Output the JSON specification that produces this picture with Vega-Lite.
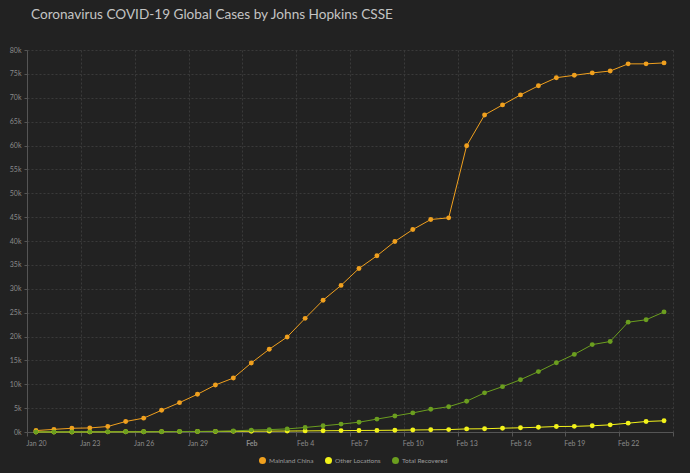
{
  "$schema": "https://vega.github.io/schema/vega-lite/v6.json",
  "width": 646,
  "height": 382,
  "autosize": {"type": "none"},
  "padding": {"left": 27, "top": 50, "right": 17, "bottom": 41},
  "background": "#222222",
  "title": {
    "text": "Coronavirus COVID-19 Global Cases by Johns Hopkins CSSE",
    "anchor": "start",
    "frame": "group",
    "dx": 4,
    "offset": 24,
    "font": "Lato",
    "fontSize": 13.6,
    "fontWeight": "normal",
    "color": "#c4c4c4"
  },
  "config": {
    "view": {"stroke": null},
    "axis": {
      "domainColor": "#555555",
      "tickColor": "#555555",
      "gridColor": "#3a3a3a",
      "gridDash": [2, 2],
      "gridWidth": 1,
      "labelColor": "#8a8a8a",
      "labelFont": "Lato",
      "labelFontSize": 7,
      "title": null
    }
  },
  "data": {
    "values": [
      {"date": "2020-01-20", "series": "Mainland China", "value": 300},
      {"date": "2020-01-21", "series": "Mainland China", "value": 550},
      {"date": "2020-01-22", "series": "Mainland China", "value": 780},
      {"date": "2020-01-23", "series": "Mainland China", "value": 850},
      {"date": "2020-01-24", "series": "Mainland China", "value": 1150},
      {"date": "2020-01-25", "series": "Mainland China", "value": 2200},
      {"date": "2020-01-26", "series": "Mainland China", "value": 2900},
      {"date": "2020-01-27", "series": "Mainland China", "value": 4550},
      {"date": "2020-01-28", "series": "Mainland China", "value": 6150},
      {"date": "2020-01-29", "series": "Mainland China", "value": 7900},
      {"date": "2020-01-30", "series": "Mainland China", "value": 9850},
      {"date": "2020-01-31", "series": "Mainland China", "value": 11300},
      {"date": "2020-02-01", "series": "Mainland China", "value": 14460},
      {"date": "2020-02-02", "series": "Mainland China", "value": 17330},
      {"date": "2020-02-03", "series": "Mainland China", "value": 19900},
      {"date": "2020-02-04", "series": "Mainland China", "value": 23800},
      {"date": "2020-02-05", "series": "Mainland China", "value": 27600},
      {"date": "2020-02-06", "series": "Mainland China", "value": 30700},
      {"date": "2020-02-07", "series": "Mainland China", "value": 34250},
      {"date": "2020-02-08", "series": "Mainland China", "value": 36900},
      {"date": "2020-02-09", "series": "Mainland China", "value": 39900},
      {"date": "2020-02-10", "series": "Mainland China", "value": 42400},
      {"date": "2020-02-11", "series": "Mainland China", "value": 44500},
      {"date": "2020-02-12", "series": "Mainland China", "value": 44850},
      {"date": "2020-02-13", "series": "Mainland China", "value": 59950},
      {"date": "2020-02-14", "series": "Mainland China", "value": 66400},
      {"date": "2020-02-15", "series": "Mainland China", "value": 68500},
      {"date": "2020-02-16", "series": "Mainland China", "value": 70600},
      {"date": "2020-02-17", "series": "Mainland China", "value": 72500},
      {"date": "2020-02-18", "series": "Mainland China", "value": 74200},
      {"date": "2020-02-19", "series": "Mainland China", "value": 74700},
      {"date": "2020-02-20", "series": "Mainland China", "value": 75200},
      {"date": "2020-02-21", "series": "Mainland China", "value": 75600},
      {"date": "2020-02-22", "series": "Mainland China", "value": 77100},
      {"date": "2020-02-23", "series": "Mainland China", "value": 77100},
      {"date": "2020-02-24", "series": "Mainland China", "value": 77300},
      {"date": "2020-01-20", "series": "Other Locations", "value": 5},
      {"date": "2020-01-21", "series": "Other Locations", "value": 8},
      {"date": "2020-01-22", "series": "Other Locations", "value": 12},
      {"date": "2020-01-23", "series": "Other Locations", "value": 20},
      {"date": "2020-01-24", "series": "Other Locations", "value": 30},
      {"date": "2020-01-25", "series": "Other Locations", "value": 40},
      {"date": "2020-01-26", "series": "Other Locations", "value": 55},
      {"date": "2020-01-27", "series": "Other Locations", "value": 70},
      {"date": "2020-01-28", "series": "Other Locations", "value": 85},
      {"date": "2020-01-29", "series": "Other Locations", "value": 100},
      {"date": "2020-01-30", "series": "Other Locations", "value": 120},
      {"date": "2020-01-31", "series": "Other Locations", "value": 140},
      {"date": "2020-02-01", "series": "Other Locations", "value": 160},
      {"date": "2020-02-02", "series": "Other Locations", "value": 180},
      {"date": "2020-02-03", "series": "Other Locations", "value": 200},
      {"date": "2020-02-04", "series": "Other Locations", "value": 230},
      {"date": "2020-02-05", "series": "Other Locations", "value": 260},
      {"date": "2020-02-06", "series": "Other Locations", "value": 290},
      {"date": "2020-02-07", "series": "Other Locations", "value": 320},
      {"date": "2020-02-08", "series": "Other Locations", "value": 340},
      {"date": "2020-02-09", "series": "Other Locations", "value": 370},
      {"date": "2020-02-10", "series": "Other Locations", "value": 420},
      {"date": "2020-02-11", "series": "Other Locations", "value": 460},
      {"date": "2020-02-12", "series": "Other Locations", "value": 500},
      {"date": "2020-02-13", "series": "Other Locations", "value": 650},
      {"date": "2020-02-14", "series": "Other Locations", "value": 680},
      {"date": "2020-02-15", "series": "Other Locations", "value": 800},
      {"date": "2020-02-16", "series": "Other Locations", "value": 880},
      {"date": "2020-02-17", "series": "Other Locations", "value": 1000},
      {"date": "2020-02-18", "series": "Other Locations", "value": 1150},
      {"date": "2020-02-19", "series": "Other Locations", "value": 1180},
      {"date": "2020-02-20", "series": "Other Locations", "value": 1300},
      {"date": "2020-02-21", "series": "Other Locations", "value": 1500},
      {"date": "2020-02-22", "series": "Other Locations", "value": 1850},
      {"date": "2020-02-23", "series": "Other Locations", "value": 2200},
      {"date": "2020-02-24", "series": "Other Locations", "value": 2350},
      {"date": "2020-01-20", "series": "Total Recovered", "value": 20},
      {"date": "2020-01-21", "series": "Total Recovered", "value": 25},
      {"date": "2020-01-22", "series": "Total Recovered", "value": 28},
      {"date": "2020-01-23", "series": "Total Recovered", "value": 30},
      {"date": "2020-01-24", "series": "Total Recovered", "value": 36},
      {"date": "2020-01-25", "series": "Total Recovered", "value": 39},
      {"date": "2020-01-26", "series": "Total Recovered", "value": 49},
      {"date": "2020-01-27", "series": "Total Recovered", "value": 58},
      {"date": "2020-01-28", "series": "Total Recovered", "value": 101},
      {"date": "2020-01-29", "series": "Total Recovered", "value": 120},
      {"date": "2020-01-30", "series": "Total Recovered", "value": 135},
      {"date": "2020-01-31", "series": "Total Recovered", "value": 214},
      {"date": "2020-02-01", "series": "Total Recovered", "value": 400},
      {"date": "2020-02-02", "series": "Total Recovered", "value": 500},
      {"date": "2020-02-03", "series": "Total Recovered", "value": 650},
      {"date": "2020-02-04", "series": "Total Recovered", "value": 950},
      {"date": "2020-02-05", "series": "Total Recovered", "value": 1300},
      {"date": "2020-02-06", "series": "Total Recovered", "value": 1650},
      {"date": "2020-02-07", "series": "Total Recovered", "value": 2050},
      {"date": "2020-02-08", "series": "Total Recovered", "value": 2700},
      {"date": "2020-02-09", "series": "Total Recovered", "value": 3350},
      {"date": "2020-02-10", "series": "Total Recovered", "value": 4000},
      {"date": "2020-02-11", "series": "Total Recovered", "value": 4750},
      {"date": "2020-02-12", "series": "Total Recovered", "value": 5300},
      {"date": "2020-02-13", "series": "Total Recovered", "value": 6450},
      {"date": "2020-02-14", "series": "Total Recovered", "value": 8200},
      {"date": "2020-02-15", "series": "Total Recovered", "value": 9500},
      {"date": "2020-02-16", "series": "Total Recovered", "value": 10950},
      {"date": "2020-02-17", "series": "Total Recovered", "value": 12650},
      {"date": "2020-02-18", "series": "Total Recovered", "value": 14500},
      {"date": "2020-02-19", "series": "Total Recovered", "value": 16250},
      {"date": "2020-02-20", "series": "Total Recovered", "value": 18300},
      {"date": "2020-02-21", "series": "Total Recovered", "value": 18950},
      {"date": "2020-02-22", "series": "Total Recovered", "value": 23000},
      {"date": "2020-02-23", "series": "Total Recovered", "value": 23500},
      {"date": "2020-02-24", "series": "Total Recovered", "value": 25150}
    ]
  },
  "encoding": {
    "x": {
      "field": "date",
      "type": "temporal",
      "timeUnit": "utcyearmonthdate",
      "bandPosition": 0.5,
      "scale": {
        "domain": [
          {"year": 2020, "month": 1, "date": 20, "utc": true},
          {"year": 2020, "month": 2, "date": 25, "utc": true}
        ],
        "nice": false
      },
      "axis": {
        "values": [
          {"year": 2020, "month": 1, "date": 20, "utc": true},
          {"year": 2020, "month": 1, "date": 23, "utc": true},
          {"year": 2020, "month": 1, "date": 26, "utc": true},
          {"year": 2020, "month": 1, "date": 29, "utc": true},
          {"year": 2020, "month": 2, "date": 1, "utc": true},
          {"year": 2020, "month": 2, "date": 4, "utc": true},
          {"year": 2020, "month": 2, "date": 7, "utc": true},
          {"year": 2020, "month": 2, "date": 10, "utc": true},
          {"year": 2020, "month": 2, "date": 13, "utc": true},
          {"year": 2020, "month": 2, "date": 16, "utc": true},
          {"year": 2020, "month": 2, "date": 19, "utc": true},
          {"year": 2020, "month": 2, "date": 22, "utc": true},
          {"year": 2020, "month": 2, "date": 25, "utc": true}
        ],
        "labelExpr": "utcdate(datum.value) == 1 ? utcFormat(datum.value, '%b') : (utcdate(datum.value) == 25 && utcmonth(datum.value) == 1 ? '' : utcFormat(datum.value, '%b %-d'))",
        "labelFontWeight": {"condition": {"test": "utcdate(datum.value) == 1", "value": "bold"}, "value": "normal"},
        "labelOffset": 9,
        "labelPadding": 3,
        "tickSize": 4,
        "labelFlush": false,
        "labelOverlap": false
      }
    },
    "y": {
      "field": "value",
      "type": "quantitative",
      "scale": {"domain": [0, 80000], "nice": false},
      "axis": {
        "values": [0, 5000, 10000, 15000, 20000, 25000, 30000, 35000, 40000, 45000, 50000, 55000, 60000, 65000, 70000, 75000, 80000],
        "format": "~s",
        "tickSize": 3,
        "labelPadding": 3
      }
    },
    "color": {
      "field": "series",
      "type": "nominal",
      "scale": {
        "domain": ["Mainland China", "Other Locations", "Total Recovered"],
        "range": ["#f0a01e", "#f2f21a", "#6b9e1f"]
      },
      "legend": {
        "orient": "none",
        "legendX": 232,
        "legendY": 407,
        "direction": "horizontal",
        "title": null,
        "symbolType": "circle",
        "symbolSize": 49,
        "symbolStrokeWidth": 0,
        "symbolOpacity": 1,
        "labelColor": "#9a9a9a",
        "labelFont": "Lato",
        "labelFontSize": 6.5,
        "labelOffset": 3,
        "columnPadding": 11
      }
    }
  },
  "layer": [
    {"mark": {"type": "line", "strokeWidth": 1}},
    {"mark": {"type": "point", "filled": true, "size": 24, "opacity": 1}}
  ]
}
